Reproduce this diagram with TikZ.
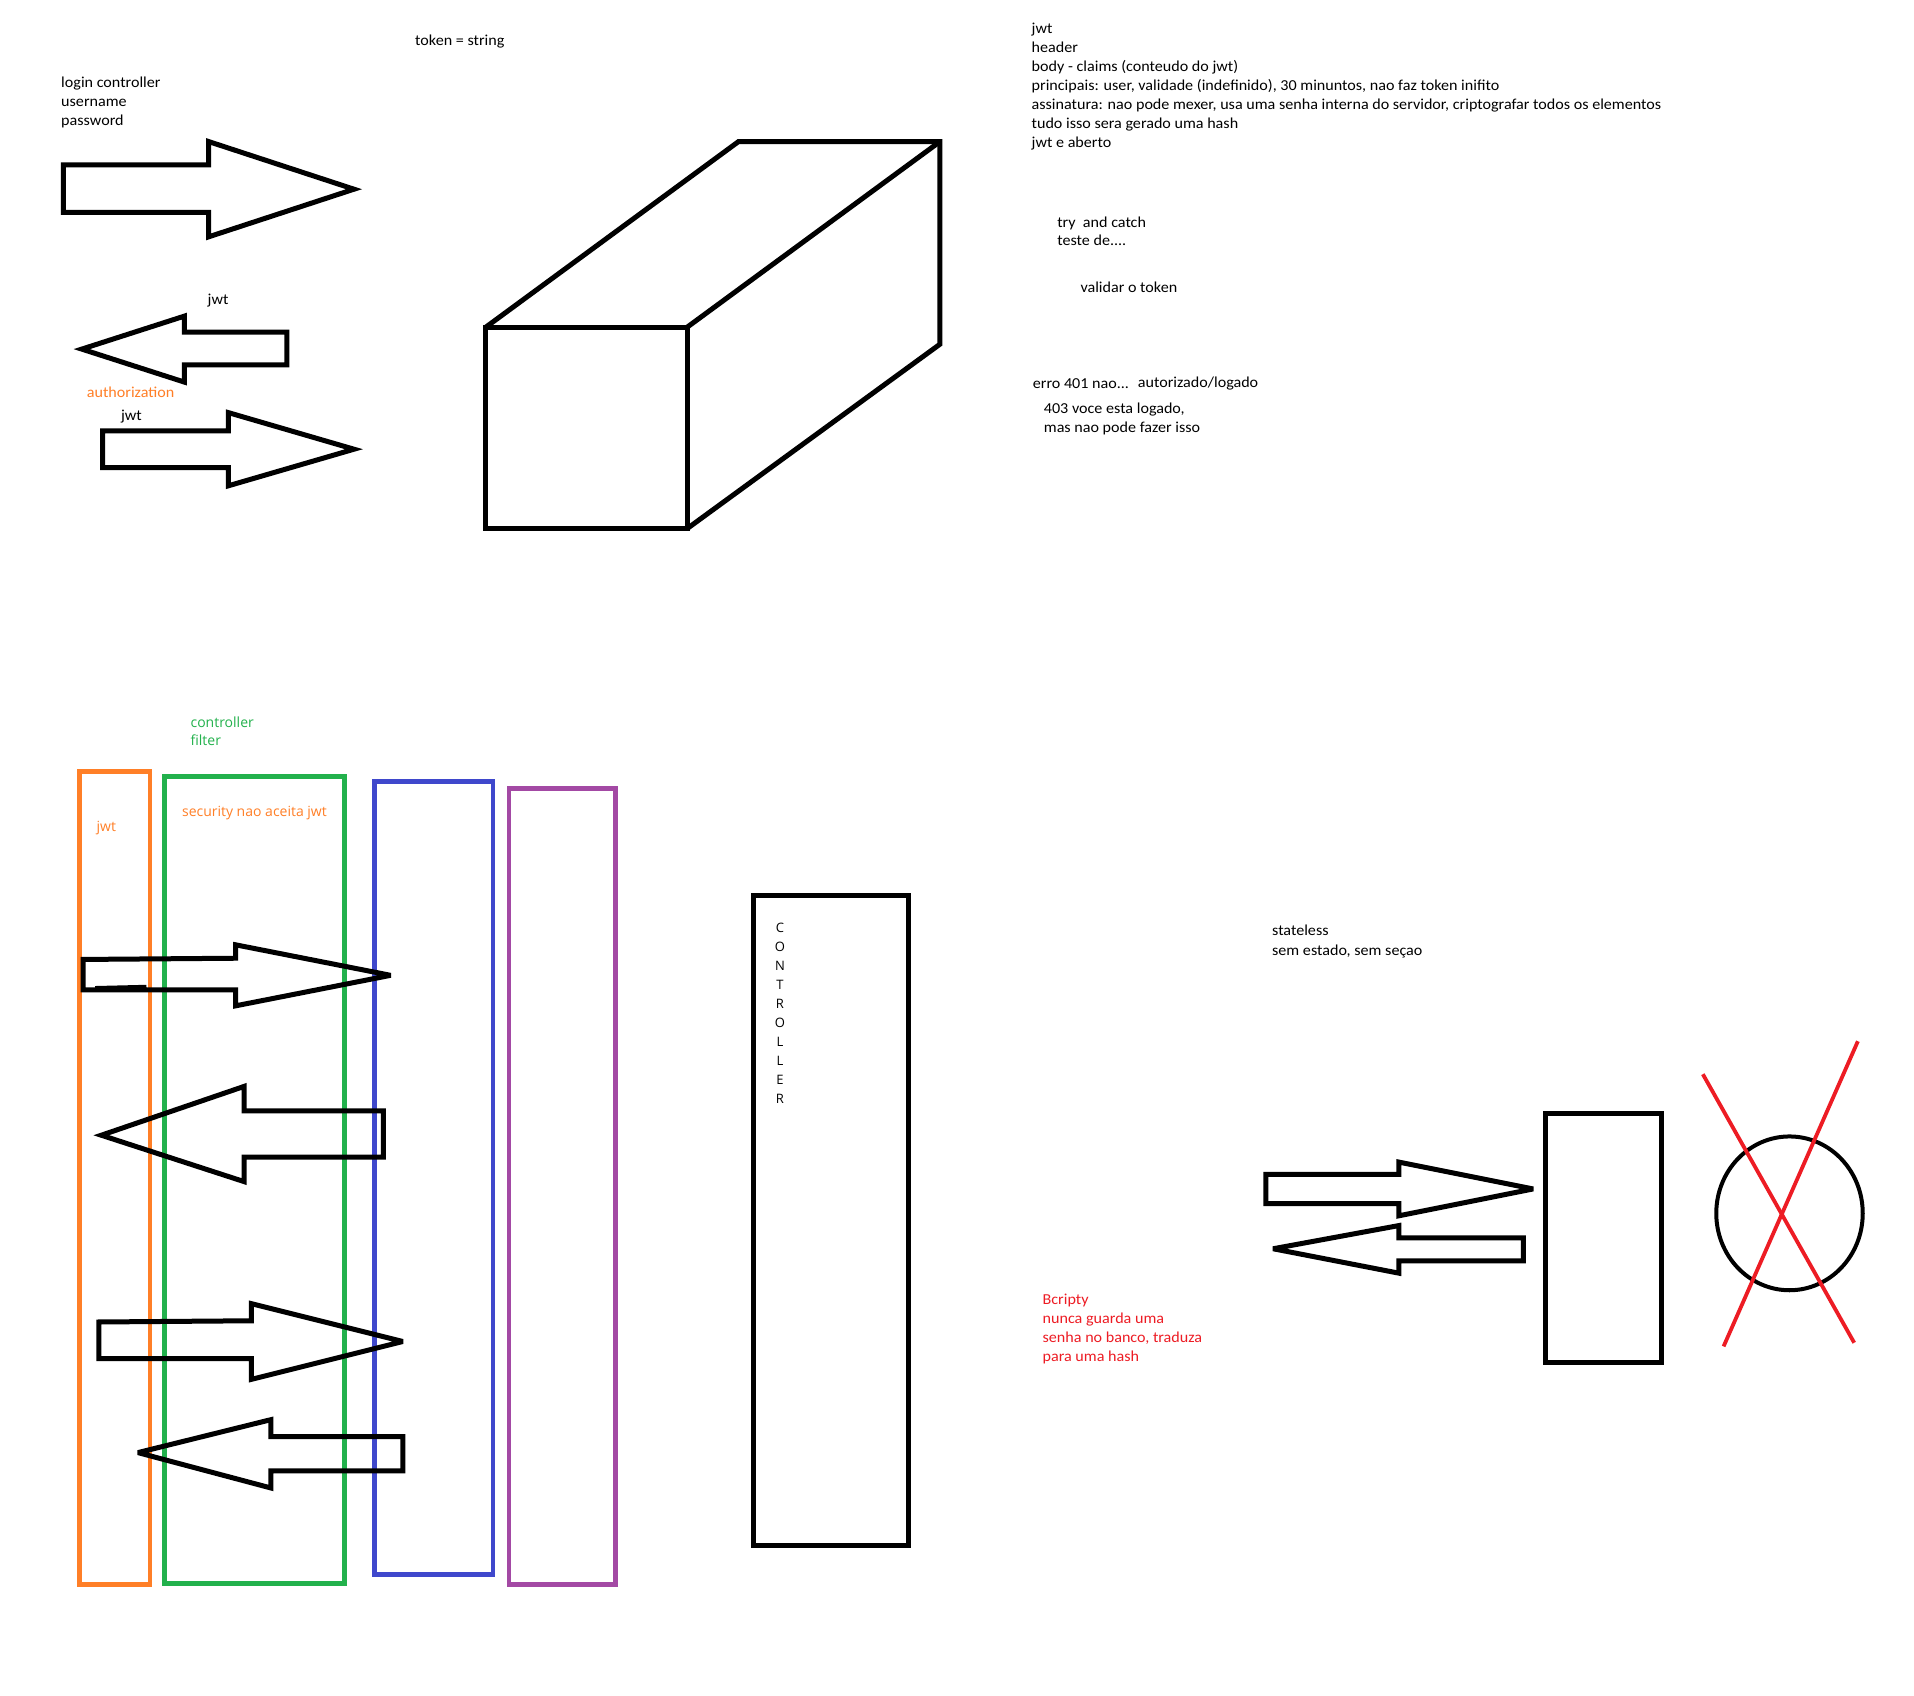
\documentclass[tikz,border=0pt]{standalone}
\usepackage{fontspec}
\setmainfont{Carlito}[FakeStretch=1.06]
\newfontfamily\segoe{Open Sans}
\definecolor{pOrange}{HTML}{FF7F27}
\definecolor{pGreen}{HTML}{22B14C}
\definecolor{pBlue}{HTML}{3F48CC}
\definecolor{pPurple}{HTML}{A349A4}
\definecolor{pRed}{HTML}{ED1C24}
\begin{document}
\begin{tikzpicture}[x=1.2207pt,y=-1.2207pt,
  cal/.style={anchor=base west,inner sep=0pt,font=\fontsize{15.2}{18}\selectfont},
  seg/.style={anchor=base west,inner sep=0pt,font=\segoe\fontsize{14}{17}\selectfont},
  shape line/.style={line width=5pt,line join=miter,miter limit=4},
  col rect/.style={line width=4.6pt}]
\useasboundingbox[fill=white] (0,0) rectangle (1568,1389);

% ---------- top-left texts ----------
\node[cal] (tok) at (340,37.5) {token = string};
\node[cal] (lc1) at (50,71.5) {login controller};
\node[cal] (lc2) at (50,87.5) {username};
\node[cal] (lc3) at (50,102.5) {password};
\node[cal] (jwt1) at (170,249.5) {jwt};
\node[cal,text=pOrange] (auth) at (71,325.5) {authorization};
\node[cal] (jwt2) at (99,344.5) {jwt};

% ---------- top-left arrows ----------
\draw[shape line] (52,135) -- (171,135) -- (171,116) -- (290,155) -- (171,194) -- (171,174) -- (52,174) -- cycle;
\draw[shape line] (67,286) -- (151,259) -- (151,272) -- (235,272) -- (235,299) -- (151,299) -- (151,313) -- cycle;
\draw[shape line] (84,353) -- (187,353) -- (187,338) -- (290,368) -- (187,398) -- (187,383) -- (84,383) -- cycle;

% ---------- 3D box ----------
\draw[shape line] (398,268) rectangle (563,433);
\draw[shape line] (398,268) -- (605,116) -- (770,116) -- (770,282) -- (563,433);
\draw[shape line] (563,268) -- (770,116);

% ---------- right text block ----------
\foreach \t [count=\i] in {jwt, header, {body - claims (conteudo do jwt)},
  {principais: user, validade (indefinido), 30 minuntos, nao faz token inifito},
  {assinatura: nao pode mexer, usa uma senha interna do servidor, criptografar todos os elementos},
  {tudo isso sera gerado uma hash}, {jwt e aberto}}
  \node[cal] (r\i) at (845,{27.5+15.55*(\i-1)}) {\t};
\node[cal] (try1) at (866,186.5) {try\ \ and catch};
\node[cal] (try2) at (866,201.5) {teste de....};
\node[cal] (val) at (885,239.5) {validar o token};
\node[cal] (e401) at (846,318.5) {erro 401 nao...};
\node[cal] (e401b) at (932,317.5) {autorizado/logado};
\node[cal] (e403a) at (855,338.5) {403 voce esta logado,};
\node[cal] (e403b) at (855,354.5) {mas nao pode fazer isso};

% ---------- bottom-left filter chain ----------
\node[seg,text=pGreen] (cf1) at (156,596) {controller};
\node[seg,text=pGreen] (cf2) at (156,611) {filter};
\draw[col rect,pOrange] (65,632) rectangle (123,1298);
\draw[col rect,pGreen] (135,636) rectangle (282,1297);
\draw[col rect,pBlue] (307,640) rectangle (404,1290);
\draw[col rect,pPurple] (417,646) rectangle (504,1298);
\node[seg,text=pOrange] (jwt3) at (79,681) {jwt};
\node[seg,text=pOrange] (sec) at (149,669) {security nao aceita jwt};

% arrows across filters
\draw[shape line] (68,786) -- (193,785) -- (193,774) -- (320,799) -- (193,824) -- (193,811) -- (68,811) -- cycle;
\draw[line width=3pt] (78,809) -- (120,808);
\draw[shape line] (83,930) -- (200,890) -- (200,910) -- (314,910) -- (314,948) -- (200,948) -- (200,968) -- cycle;
\draw[shape line] (81,1083) -- (206,1082) -- (206,1068) -- (330,1099) -- (206,1130) -- (206,1113) -- (81,1113) -- cycle;
\draw[shape line] (113,1190) -- (222,1163) -- (222,1177) -- (330,1177) -- (330,1205) -- (222,1205) -- (222,1219) -- cycle;

% ---------- controller box ----------
\draw[shape line] (617,734) rectangle (744,1266);
\foreach \l [count=\i] in {C,O,N,T,R,O,L,L,E,R}
  \node[anchor=base,inner sep=0pt,font=\segoe\fontsize{13}{15}\selectfont] (c\i) at (639,{764+15.55*(\i-1)}) {\l};

% ---------- bottom-right ----------
\node[cal] (st1) at (1042,766.5) {stateless};
\node[cal] (st2) at (1042,782.5) {sem estado, sem seçao};
\draw[shape line] (1037,962) -- (1146,962) -- (1146,952) -- (1256,974) -- (1146,996) -- (1146,986) -- (1037,986) -- cycle;
\draw[shape line] (1043,1023) -- (1146,1004) -- (1146,1014) -- (1248,1014) -- (1248,1033) -- (1146,1033) -- (1146,1043) -- cycle;
\draw[shape line] (1266,912) rectangle (1361,1116);
\draw[line width=4pt] (1466,994) ellipse [x radius=60, y radius=63];
\draw[pRed,line width=3.8pt] (1395,880) -- (1519,1100);
\draw[pRed,line width=3.8pt] (1522,853) -- (1412,1103);

\node[cal,text=pRed] (b1) at (854,1068.5) {Bcripty};
\node[cal,text=pRed] (b2) at (854,1084.5) {nunca guarda uma};
\node[cal,text=pRed] (b3) at (854,1099.5) {senha no banco, traduza};
\node[cal,text=pRed] (b4) at (854,1115.5) {para uma hash};
\end{tikzpicture}
\end{document}
